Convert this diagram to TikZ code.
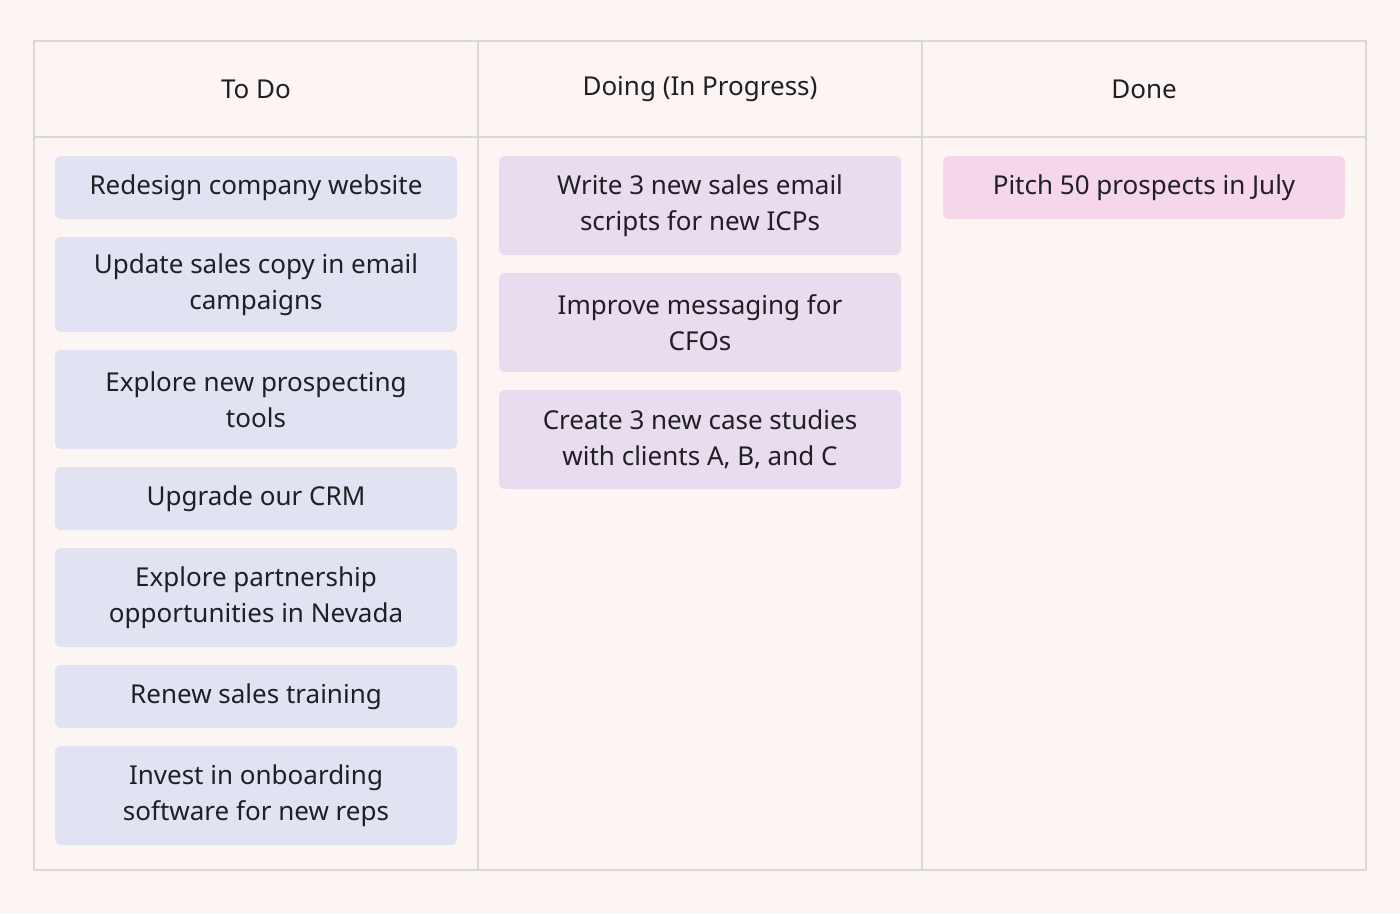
\documentclass[tikz,border=0pt]{standalone}
\usepackage{fontspec}
\setmainfont{Noto Sans}
\definecolor{bg}{HTML}{FDF5F3}
\definecolor{grid}{HTML}{D9D9D9}
\definecolor{todo}{HTML}{E2E3F2}
\definecolor{doing}{HTML}{EADCEF}
\definecolor{done}{HTML}{F5D6EA}
\definecolor{txt}{HTML}{1F1F24}
\begin{document}
\begin{tikzpicture}[x=1pt,y=-1pt,
  card/.style={rounded corners=6pt,inner sep=0pt},
  lbl/.style={align=center,font=\fontsize{26}{36}\selectfont,text=txt},
  hdr/.style={font=\fontsize{26}{32}\selectfont\bfseries,text=txt}]
\fill[bg] (0,0) rectangle (1400,913);
\useasboundingbox (0,0) rectangle (1400,913);
\draw[grid,line width=1.5pt] (34,41) rectangle (1366,870);
\draw[grid,line width=1.5pt] (478,41) -- (478,870) (922,41) -- (922,870) (34,137) -- (1366,137);
\node[hdr] (h1) at (256,89) {To Do};
\node[hdr] (h2) at (700,89) {Doing (In Progress)};
\node[hdr] (h3) at (1144,89) {Done};
\newcommand\cardbox[6]{%
  \fill[#1,rounded corners=6pt] (#2,#3) rectangle (#4,#5);
  \node[lbl] at ({(#2+#4)/2},{(#3+#5)/2}) {#6};}
\cardbox{todo}{55}{156}{457}{219}{Redesign company website}
\cardbox{todo}{55}{237}{457}{332}{Update sales copy in email\\campaigns}
\cardbox{todo}{55}{350}{457}{449}{Explore new prospecting\\tools}
\cardbox{todo}{55}{467}{457}{530}{Upgrade our CRM}
\cardbox{todo}{55}{548}{457}{647}{Explore partnership\\opportunities in Nevada}
\cardbox{todo}{55}{665}{457}{728}{Renew sales training}
\cardbox{todo}{55}{746}{457}{845}{Invest in onboarding\\software for new reps}
\cardbox{doing}{499}{156}{901}{255}{Write 3 new sales email\\scripts for new ICPs}
\cardbox{doing}{499}{273}{901}{372}{Improve messaging for\\CFOs}
\cardbox{doing}{499}{390}{901}{489}{Create 3 new case studies\\with clients A, B, and C}
\cardbox{done}{943}{156}{1345}{219}{Pitch 50 prospects in July}
\end{tikzpicture}
\end{document}
